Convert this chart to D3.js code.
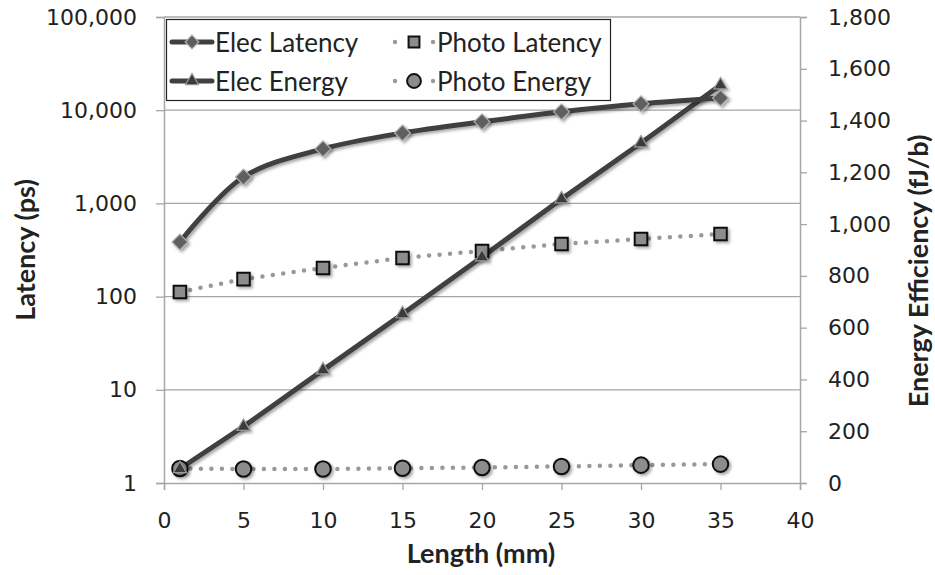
<!DOCTYPE html>
<html>
<head>
<meta charset="utf-8">
<script src="https://cdn.jsdelivr.net/npm/d3@7"></script>
<style>
  body { margin: 0; background: #fff; }
  .tick text { font-family: "DejaVu Sans", Verdana, sans-serif; font-size: 22px; fill: #222; }
  .title { font-family: Lato, "Open Sans", sans-serif; font-weight: bold; font-size: 27px; fill: #222; }
  .legend text { font-family: Lato, "Open Sans", sans-serif; font-size: 26px; fill: #222; }
</style>
</head>
<body>
<script>
var lengths = [1, 5, 10, 15, 20, 25, 30, 35];
var elecLatency = [385, 1920, 3850, 5700, 7500, 9600, 11700, 13500];
var photoLatency = [112, 154, 203, 260, 309, 367, 415, 469];
var elecEnergy = [55, 218, 436, 653, 873, 1097, 1313, 1537];
var photoEnergy = [56, 54, 54, 57, 60, 64, 69, 73];

var xTicks = [0, 5, 10, 15, 20, 25, 30, 35, 40];
var latTicks = [1, 10, 100, 1000, 10000, 100000];
var energyTicks = [0, 200, 400, 600, 800, 1000, 1200, 1400, 1600, 1800];

var width = 935,
    height = 575,
    plotLeft = 164, plotRight = 800, plotTop = 17, plotBottom = 483;

var svg = d3.select("body").append("svg")
    .attr("width", width)
    .attr("height", height);

var defs = svg.append("defs");
var f = defs.append("filter").attr("id", "shadow")
    .attr("x", "-50%").attr("y", "-50%").attr("width", "200%").attr("height", "200%");
f.append("feDropShadow").attr("dx", 2).attr("dy", 2)
    .attr("stdDeviation", 1.5).attr("flood-opacity", 0.35);

var x = d3.scaleLinear().domain([0, 40]).range([plotLeft, plotRight]);
var yL = d3.scaleLog().domain([1, 100000]).range([plotBottom, plotTop]);
var yR = d3.scaleLinear().domain([0, 1800]).range([plotBottom, plotTop]);

var fmt = d3.format(",");

// gridlines
svg.append("g").selectAll("line")
    .data(latTicks.slice(1))
  .enter().append("line")
    .attr("x1", plotLeft).attr("x2", plotRight)
    .attr("y1", function(d) { return yL(d); })
    .attr("y2", function(d) { return yL(d); })
    .attr("stroke", "#a6a6a6").attr("stroke-width", 1.3);

// axes
var axL = svg.append("g")
    .attr("transform", "translate(" + plotLeft + ",0)")
    .call(d3.axisLeft(yL).tickValues(latTicks).tickFormat(fmt).tickSize(8).tickPadding(19));
var axR = svg.append("g")
    .attr("transform", "translate(" + plotRight + ",0)")
    .call(d3.axisRight(yR).tickValues(energyTicks).tickFormat(fmt).tickSize(7).tickPadding(21));
var axB = svg.append("g")
    .attr("transform", "translate(0," + plotBottom + ")")
    .call(d3.axisBottom(x).tickValues(xTicks).tickSize(7).tickPadding(22));

[axL, axR, axB].forEach(function(a) {
  a.select(".domain").attr("stroke", "#a6a6a6").attr("stroke-width", 1.5);
  a.selectAll(".tick line").attr("stroke", "#a6a6a6").attr("stroke-width", 1.3);
});

// axis titles
svg.append("text").attr("class", "title")
    .attr("transform", "translate(35,250) rotate(-90)")
    .attr("text-anchor", "middle")
    .text("Latency (ps)");
svg.append("text").attr("class", "title")
    .attr("transform", "translate(928,271) rotate(-90)")
    .attr("text-anchor", "middle")
    .text("Energy Efficiency (fJ/b)");
svg.append("text").attr("class", "title")
    .attr("x", 481).attr("y", 563)
    .attr("text-anchor", "middle")
    .text("Length (mm)");

// series
var elecLatData = lengths.map(function(d, i) { return [d, elecLatency[i]]; });
var photoLatData = lengths.map(function(d, i) { return [d, photoLatency[i]]; });
var elecEnData = lengths.map(function(d, i) { return [d, elecEnergy[i]]; });
var photoEnData = lengths.map(function(d, i) { return [d, photoEnergy[i]]; });

var lineL = d3.line()
    .x(function(d) { return x(d[0]); })
    .y(function(d) { return yL(d[1]); });
var lineR = d3.line()
    .x(function(d) { return x(d[0]); })
    .y(function(d) { return yR(d[1]); });

function dotted(sel) {
  sel.attr("fill", "none").attr("stroke", "#999")
    .attr("stroke-width", 4.5).attr("stroke-linecap", "round")
    .attr("stroke-dasharray", "0 10.5");
}

svg.append("path").datum(photoEnData).attr("d", lineR).call(dotted);
svg.append("path").datum(photoLatData).attr("d", lineL).call(dotted);

svg.append("path").datum(elecEnData).attr("d", lineR)
    .attr("fill", "none").attr("stroke", "#404040").attr("stroke-width", 5)
    .attr("filter", "url(#shadow)");
svg.append("path").datum(elecLatData).attr("d", lineL.curve(d3.curveCatmullRom.alpha(0.5)))
    .attr("fill", "none").attr("stroke", "#404040").attr("stroke-width", 5)
    .attr("filter", "url(#shadow)");

var diamond = d3.symbol().type(d3.symbolDiamond2).size(160);
var triangle = d3.symbol().type(d3.symbolTriangle2).size(125);
var square = d3.symbol().type(d3.symbolSquare2).size(200);
var circle = d3.symbol().type(d3.symbolCircle).size(190);

function markers(data, yScale, sym, fill, stroke, sw) {
  svg.append("g").selectAll("path")
      .data(data)
    .enter().append("path")
      .attr("transform", function(d) { return "translate(" + x(d[0]) + "," + yScale(d[1]) + ")"; })
      .attr("d", sym)
      .attr("fill", fill).attr("stroke", stroke).attr("stroke-width", sw)
      .attr("filter", "url(#shadow)");
}

markers(photoEnData, yR, circle, "#8c8c8c", "#111", 2);
markers(photoLatData, yL, square, "#8c8c8c", "#111", 2);
markers(elecEnData, yR, triangle, "#3a3a3a", "#9a9a9a", 1.2);
markers(elecLatData, yL, diamond, "#5e5e5e", "#b0b0b0", 1.2);

// legend
var lg = svg.append("g").attr("class", "legend");
lg.append("rect").attr("x", 166.5).attr("y", 19.5).attr("width", 444).attr("height", 81)
    .attr("fill", "#fff").attr("stroke", "#222").attr("stroke-width", 1.2);

var legendItems = [
  { name: "Elec Latency", col: 0, row: 0, sym: diamond, fill: "#5e5e5e", stroke: "#b0b0b0", sw: 1.2, solid: true },
  { name: "Photo Latency", col: 1, row: 0, sym: square, fill: "#8c8c8c", stroke: "#111", sw: 2, solid: false },
  { name: "Elec Energy", col: 0, row: 1, sym: triangle, fill: "#3a3a3a", stroke: "#9a9a9a", sw: 1.2, solid: true },
  { name: "Photo Energy", col: 1, row: 1, sym: circle, fill: "#8c8c8c", stroke: "#111", sw: 2, solid: false }
];

legendItems.forEach(function(it) {
  var cx = it.col === 0 ? 192 : 414;
  var cy = it.row === 0 ? 42 : 81;
  if (it.solid) {
    lg.append("line").attr("x1", cx - 20).attr("x2", cx + 20).attr("y1", cy).attr("y2", cy)
        .attr("stroke", "#404040").attr("stroke-width", 5).attr("stroke-linecap", "round");
  } else {
    [cx - 19, cx + 19].forEach(function(px) {
      lg.append("circle").attr("cx", px).attr("cy", cy).attr("r", 2.2).attr("fill", "#999");
    });
  }
  lg.append("path").attr("transform", "translate(" + cx + "," + cy + ")")
      .attr("d", it.sym.size(it.solid ? 120 : 150)())
      .attr("fill", it.fill).attr("stroke", it.stroke).attr("stroke-width", it.sw);
  lg.append("text").attr("x", cx + 23).attr("y", cy + 10).text(it.name);
});
</script>
</body>
</html>
